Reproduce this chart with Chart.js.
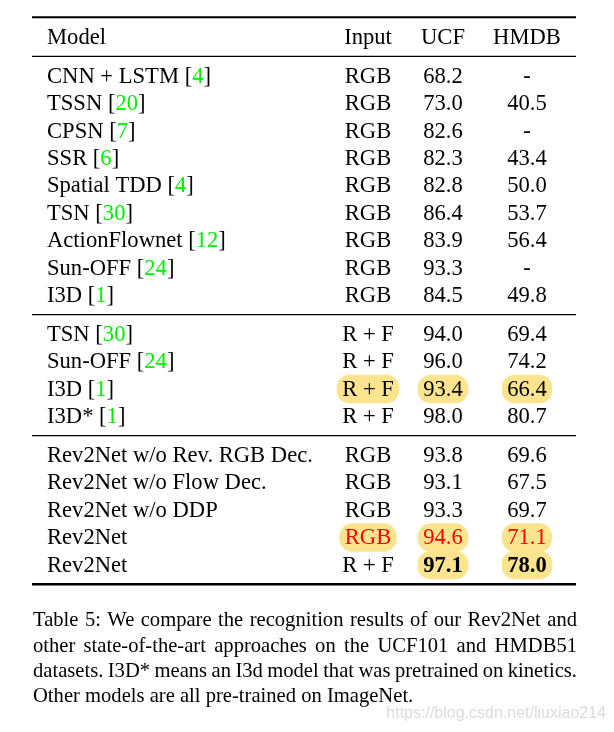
<!DOCTYPE html>
<html>
<head>
<meta charset="utf-8">
<script src="https://cdn.jsdelivr.net/npm/chart.js@4.4.0/dist/chart.umd.min.js"></script>
<style>
  body { margin: 0; background: #fff; }
  canvas { display: block; }
</style>
</head>
<body>
<canvas id="myChart" width="614" height="732"></canvas>
<script>
var headers = ["Model", "Input", "UCF", "HMDB"];
var models = ["CNN + LSTM", "TSSN", "CPSN", "SSR", "Spatial TDD", "TSN", "ActionFlownet", "Sun-OFF", "I3D",
  "TSN", "Sun-OFF", "I3D", "I3D*",
  "Rev2Net w/o Rev. RGB Dec.", "Rev2Net w/o Flow Dec.", "Rev2Net w/o DDP", "Rev2Net", "Rev2Net"];
var cites = [4, 20, 7, 6, 4, 30, 12, 24, 1, 30, 24, 1, 1, null, null, null, null, null];
var inputs = ["RGB", "RGB", "RGB", "RGB", "RGB", "RGB", "RGB", "RGB", "RGB",
  "R + F", "R + F", "R + F", "R + F",
  "RGB", "RGB", "RGB", "RGB", "R + F"];
var ucf = [68.2, 73.0, 82.6, 82.3, 82.8, 86.4, 83.9, 93.3, 84.5, 94.0, 96.0, 93.4, 98.0, 93.8, 93.1, 93.3, 94.6, 97.1];
var hmdb = [null, 40.5, null, 43.4, 50.0, 53.7, 56.4, null, 49.8, 69.4, 74.2, 66.4, 80.7, 69.6, 67.5, 69.7, 71.1, 78.0];
var groups = [0, 0, 0, 0, 0, 0, 0, 0, 0, 1, 1, 1, 1, 2, 2, 2, 2, 2];

// highlighted cells: [row, column]
var highlights = [[11, 1], [11, 2], [11, 3], [16, 1], [16, 2], [16, 3], [17, 2], [17, 3]];
var redRow = 16;
var boldCells = [[17, 2], [17, 3]];

var captionLines = [
  "Table 5: We compare the recognition results of our Rev2Net and",
  "other state-of-the-art approaches on the UCF101 and HMDB51",
  "datasets. I3D* means an I3d model that was pretrained on kinetics.",
  "Other models are all pre-trained on ImageNet."
];
var watermark = "https://blog.csdn.net/liuxiao214";

// layout
var colX = [47, 368, 443, 527];
var ruleLeft = 32, ruleRight = 576;
var FONT = '"Liberation Serif", "Times New Roman", serif';
var SIZE = "22.6px ";

function rowY(i) { return 1.42 + i + 0.42 * groups[i]; }

function cellText(r, c) {
  if (c === 1) return inputs[r];
  if (c === 2) return ucf[r] == null ? "-" : ucf[r].toFixed(1);
  if (c === 3) return hmdb[r] == null ? "-" : hmdb[r].toFixed(1);
  return models[r];
}
function isIn(list, r, c) {
  return list.some(function (p) { return p[0] === r && p[1] === c; });
}

var datasets = [];
for (var c = 0; c < 4; c++) {
  var pts = [{x: colX[c], y: 0, header: true}];
  for (var r = 0; r < models.length; r++) pts.push({x: colX[c], y: rowY(r), row: r});
  datasets.push({label: headers[c], col: c, data: pts, pointRadius: 0, pointHoverRadius: 0});
}

// horizontal rules
var lastRows = [8, 12, 17];
var rules = [{y: -0.72, w: 2}, {y: 0.71, w: 1.2}];
lastRows.forEach(function (r, k) {
  rules.push({y: rowY(r) + 0.71, w: k === 2 ? 2.5 : 1.2});
});
rules.forEach(function (ru) {
  datasets.push({
    type: "line", showLine: true, rule: true,
    data: [{x: ruleLeft, y: ru.y}, {x: ruleRight, y: ru.y}],
    borderColor: "#000", borderWidth: ru.w, pointRadius: 0, fill: false
  });
});

var tablePlugin = {
  id: "tableText",
  beforeDatasetsDraw: function (chart) {
    var ctx = chart.ctx;
    ctx.save();
    ctx.fillStyle = "#fce48f";
    chart.data.datasets.forEach(function (ds, di) {
      if (ds.rule) return;
      var meta = chart.getDatasetMeta(di);
      meta.data.forEach(function (el, k) {
        var p = ds.data[k];
        if (p.header || !isIn(highlights, p.row, ds.col)) return;
        var bold = isIn(boldCells, p.row, ds.col);
        ctx.font = (bold ? "bold " : "") + SIZE + FONT;
        var w = ctx.measureText(cellText(p.row, ds.col)).width + 11;
        ctx.beginPath();
        ctx.roundRect(el.x - w / 2, el.y - 14, w, 28.5, 13);
        ctx.fill();
      });
    });
    ctx.restore();
  },
  afterDatasetsDraw: function (chart) {
    var ctx = chart.ctx;
    ctx.save();
    ctx.textBaseline = "middle";
    chart.data.datasets.forEach(function (ds, di) {
      if (ds.rule) return;
      var meta = chart.getDatasetMeta(di);
      meta.data.forEach(function (el, k) {
        var p = ds.data[k];
        var x = el.x, y = el.y + 1;
        if (p.header) {
          ctx.font = SIZE + FONT;
          ctx.fillStyle = "#000";
          ctx.textAlign = ds.col === 0 ? "left" : "center";
          ctx.fillText(headers[ds.col], x, y);
          return;
        }
        var bold = isIn(boldCells, p.row, ds.col);
        ctx.font = (bold ? "bold " : "") + SIZE + FONT;
        var txt = cellText(p.row, ds.col);
        if (ds.col === 0) {
          ctx.textAlign = "left";
          ctx.fillStyle = "#000";
          ctx.fillText(txt, x, y);
          if (cites[p.row] != null) {
            x += ctx.measureText(txt + " ").width;
            ctx.fillText("[", x, y);
            x += ctx.measureText("[").width;
            ctx.fillStyle = "#00ee00";
            var cs = String(cites[p.row]);
            ctx.fillText(cs, x, y);
            x += ctx.measureText(cs).width;
            ctx.fillStyle = "#000";
            ctx.fillText("]", x, y);
          }
        } else {
          ctx.textAlign = "center";
          ctx.fillStyle = p.row === redRow ? "#ff0000" : "#000";
          ctx.fillText(txt, x, y);
        }
      });
    });

    // caption, justified
    ctx.font = "20.6px " + FONT;
    ctx.fillStyle = "#000";
    ctx.textAlign = "left";
    var left = 33, right = 577;
    captionLines.forEach(function (line, i) {
      var y = 621 + i * 25.3;
      var words = line.split(" ");
      var last = i === captionLines.length - 1;
      var total = 0;
      words.forEach(function (w) { total += ctx.measureText(w).width; });
      var gap = last ? ctx.measureText(" ").width : (right - left - total) / (words.length - 1);
      var x = left;
      words.forEach(function (w) {
        ctx.fillText(w, x, y);
        x += ctx.measureText(w).width + gap;
      });
    });

    // watermark
    ctx.font = '16px "Liberation Sans", Arial, sans-serif';
    ctx.fillStyle = "#dcdcdc";
    ctx.textAlign = "right";
    ctx.fillText(watermark, 606, 714);
    ctx.restore();
  }
};

new Chart("myChart", {
  type: "scatter",
  data: { datasets: datasets },
  options: {
    responsive: false,
    animation: false,
    layout: { padding: 0 },
    plugins: { legend: { display: false }, tooltip: { enabled: false } },
    events: [],
    scales: {
      x: { type: "linear", display: false, min: 0, max: 614 },
      y: { type: "linear", display: false, reverse: true, min: -1.35, max: 25.365 }
    }
  },
  plugins: [tablePlugin]
});
</script>
</body>
</html>
